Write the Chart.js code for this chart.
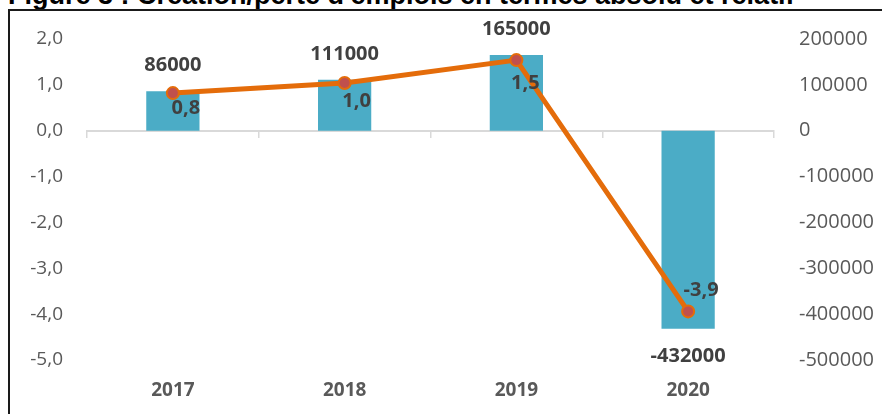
<!DOCTYPE html>
<html>
<head>
<meta charset="utf-8">
<script src="https://cdn.jsdelivr.net/npm/chart.js@4"></script>
<style>
  html, body { margin: 0; padding: 0; background: #ffffff; overflow: hidden; }
  body { width: 882px; height: 414px; position: relative; }
  #title { position: absolute; left: 8px; top: -18px; font: bold 27px "Liberation Sans", Arial, sans-serif; line-height: 27px; color: #000; white-space: nowrap; }
  #frame { position: absolute; left: 8px; top: 9px; width: 1000px; height: 600px; border: 2px solid #1a1a1a; }
  #wrap { position: absolute; left: 0; top: 0; width: 882px; height: 414px; }
</style>
</head>
<body>
<div id="title">Figure 3 : Création/perte d'emplois en termes absolu et relatif</div>
<div id="frame"></div>
<div id="wrap"><canvas id="c" width="882" height="414"></canvas></div>
<script>
// ---- data ----
const categories = ['2017', '2018', '2019', '2020'];
const jobsAbsolute = [86000, 111000, 165000, -432000];   // bars, right axis
const jobsRelative = [0.82, 1.04, 1.54, -3.94];           // line (%), left axis
const leftTicks = { min: -5, max: 2, step: 1 };
const rightTicks = { min: -500000, max: 200000, step: 100000 };

// ---- styles ----
const TICK_COLOR = '#595959';
const LABEL_COLOR = '#404040';
const FONT = '"Open Sans", "Liberation Sans", Arial, sans-serif';
const lineLabelOffsets = [[13, 15], [12, 18], [9, 23], [13, -21]];

const fmtComma = v => Number(v).toFixed(1).replace('.', ',');

const dataLabels = {
  id: 'dataLabels',
  afterDatasetsDraw(chart) {
    const ctx = chart.ctx;
    ctx.save();
    ctx.fillStyle = LABEL_COLOR;
    ctx.font = 'bold 20px ' + FONT;
    ctx.textAlign = 'center';
    ctx.textBaseline = 'middle';
    // bar labels
    const barMeta = chart.getDatasetMeta(1);
    barMeta.data.forEach((el, i) => {
      const v = chart.data.datasets[1].data[i];
      const y = v >= 0 ? el.y - 26 : el.y + 27;
      ctx.fillText(String(v), el.x, y);
    });
    // line labels
    const lineMeta = chart.getDatasetMeta(0);
    lineMeta.data.forEach((el, i) => {
      const v = chart.data.datasets[0].data[i];
      const o = lineLabelOffsets[i];
      ctx.fillText(fmtComma(v), el.x + o[0], el.y + o[1]);
    });
    ctx.restore();
  }
};

new Chart(document.getElementById('c'), {
  data: {
    labels: categories,
    datasets: [
      {
        type: 'line',
        label: 'relatif',
        data: jobsRelative,
        yAxisID: 'y',
        xAxisID: 'x',
        borderColor: '#E46C0A',
        borderWidth: 5,
        pointRadius: 6,
        pointBackgroundColor: '#C0504D',
        pointBorderColor: '#E46C0A',
        pointBorderWidth: 2,
        tension: 0,
        order: 0
      },
      {
        type: 'bar',
        label: 'absolu',
        data: jobsAbsolute,
        yAxisID: 'y1',
        xAxisID: 'x',
        backgroundColor: '#4BACC6',
        borderWidth: 0,
        categoryPercentage: 1,
        barPercentage: 0.31,
        order: 1
      }
    ]
  },
  options: {
    responsive: false,
    animation: false,
    devicePixelRatio: 1,
    layout: { padding: { top: 39, bottom: 0, left: 0, right: 0 } },
    plugins: { legend: { display: false }, tooltip: { enabled: false }, title: { display: false } },
    scales: {
      x: {
        type: 'category',
        position: 'bottom',
        offset: true,
        grid: { display: false, drawTicks: false },
        border: { display: false },
        ticks: { color: TICK_COLOR, font: { family: FONT, size: 19, weight: 'bold' }, padding: 19, maxRotation: 0 },
        afterFit: s => { s.height = 54; }
      },
      x2: {
        type: 'category',
        position: { y: 0 },
        offset: true,
        grid: { display: true, offset: true, drawOnChartArea: false, drawTicks: true, tickLength: 6, color: '#d9d9d9', lineWidth: 1.5 },
        border: { display: true, color: '#d9d9d9', width: 2 },
        ticks: { display: false }
      },
      y: {
        type: 'linear',
        position: 'left',
        min: leftTicks.min,
        max: leftTicks.max,
        grid: { display: false, drawTicks: false },
        border: { display: false },
        ticks: { stepSize: leftTicks.step, color: TICK_COLOR, font: { family: FONT, size: 19 }, padding: 24, callback: v => fmtComma(v) },
        afterFit: s => { s.width = 87; }
      },
      y1: {
        type: 'linear',
        position: 'right',
        min: rightTicks.min,
        max: rightTicks.max,
        grid: { display: false, drawTicks: false },
        border: { display: false },
        ticks: { stepSize: rightTicks.step, color: TICK_COLOR, font: { family: FONT, size: 20 }, padding: 25, callback: v => String(v) },
        afterFit: s => { s.width = 108; }
      }
    }
  },
  plugins: [dataLabels]
});
</script>
</body>
</html>
